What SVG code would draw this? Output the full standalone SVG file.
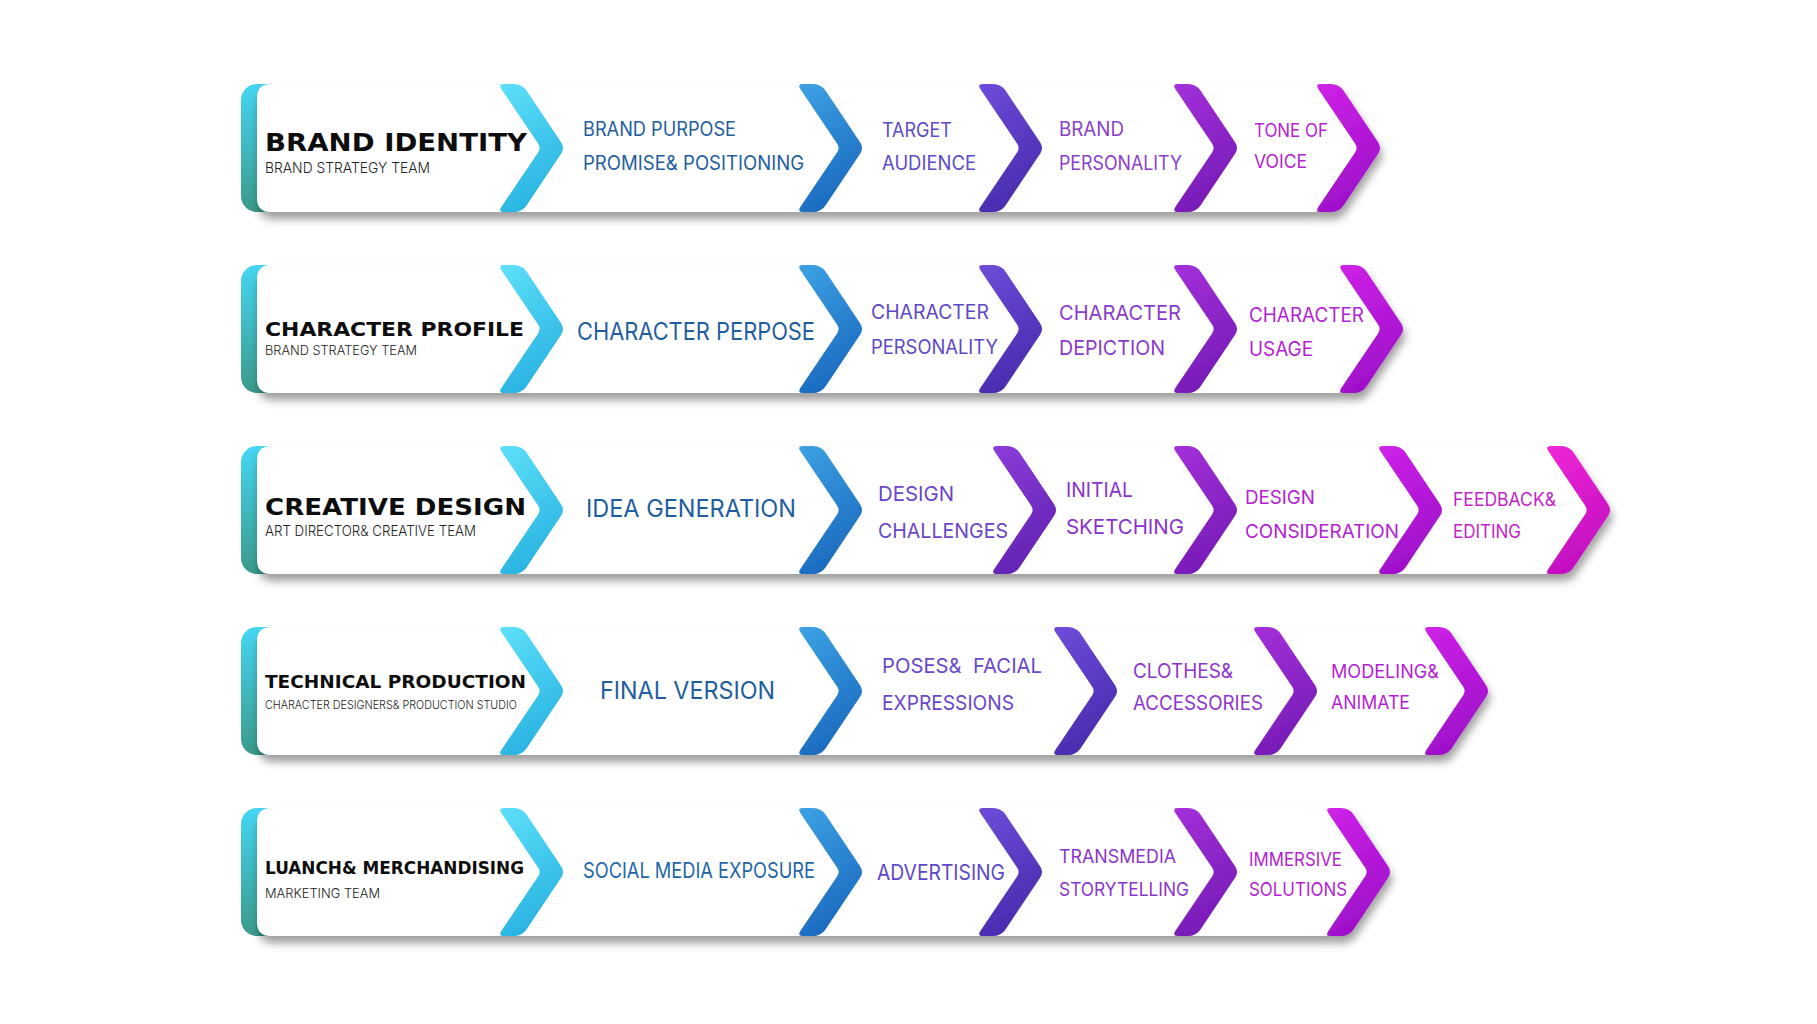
<svg xmlns="http://www.w3.org/2000/svg" xmlns:xlink="http://www.w3.org/1999/xlink" width="1817" height="1024" viewBox="0 0 1817 1024">
<style>
.title{font-family:"DejaVu Sans","Liberation Sans",sans-serif;font-weight:bold;fill:#0d0d0d}
.sub{font-family:"Inter","Liberation Sans",sans-serif;font-weight:300;fill:#222}
.step{font-family:"Inter","Open Sans",sans-serif;font-weight:400}
.tBlue{fill:#1f5e9e}
</style>
<defs>
<filter id="sh" x="-5%" y="-20%" width="110%" height="150%">
<feDropShadow dx="2" dy="7" stdDeviation="4.5" flood-color="#000" flood-opacity="0.38"/>
</filter>
<linearGradient id="gTeal" x1="0" y1="0" x2="0" y2="1"><stop offset="0" stop-color="#45d6f4"/><stop offset="1" stop-color="#3a9a8a"/></linearGradient>
<linearGradient id="gCyan" x1="0" y1="0" x2="0.3" y2="1"><stop offset="0" stop-color="#5ee0fa"/><stop offset="1" stop-color="#2ab4e2"/></linearGradient>
<linearGradient id="gBlue" x1="0" y1="0" x2="0.3" y2="1"><stop offset="0" stop-color="#3ca2e4"/><stop offset="1" stop-color="#1c6bc0"/></linearGradient>
<linearGradient id="gIndigo" x1="0" y1="0" x2="0.3" y2="1"><stop offset="0" stop-color="#6e4cda"/><stop offset="1" stop-color="#4a2caf"/></linearGradient>
<linearGradient id="gViolet" x1="0" y1="0" x2="0.3" y2="1"><stop offset="0" stop-color="#8c3cda"/><stop offset="1" stop-color="#6324b4"/></linearGradient>
<linearGradient id="gPurple" x1="0" y1="0" x2="0.3" y2="1"><stop offset="0" stop-color="#a430da"/><stop offset="1" stop-color="#781cb8"/></linearGradient>
<linearGradient id="gMag" x1="0" y1="0" x2="0.3" y2="1"><stop offset="0" stop-color="#cf22e8"/><stop offset="1" stop-color="#9e10ca"/></linearGradient>
<linearGradient id="gPink" x1="0" y1="0" x2="0.3" y2="1"><stop offset="0" stop-color="#f026d8"/><stop offset="1" stop-color="#c20fc0"/></linearGradient>
<path id="chev" d="M6,-64 L16,-64 Q24,-64 28.5,-57.4 L63.1,-5.8 Q67,0 63.1,5.8 L28.5,57.4 Q24,64 16,64 L6,64 Q0,64 3.3,59 L40.2,4.2 Q43,0 40.2,-4.2 L3.3,-59 Q0,-64 6,-64 Z"/>
</defs>
<rect width="1817" height="1024" fill="#fff"/>

<!-- ROW 1 -->
<g id="row1">
<rect x="241" y="84" width="40" height="128" rx="16" fill="url(#gTeal)"/>
<g filter="url(#sh)">
<path d="M271,84 L1316,84 L1359,148 L1316,212 L271,212 Q257,212 257,198 L257,98 Q257,84 271,84 Z" fill="#fff"/>
<use href="#chev" x="498" y="148" fill="url(#gCyan)"/>
<use href="#chev" x="797" y="148" fill="url(#gBlue)"/>
<use href="#chev" x="977" y="148" fill="url(#gIndigo)"/>
<use href="#chev" x="1172" y="148" fill="url(#gPurple)"/>
<use href="#chev" x="1315" y="148" fill="url(#gMag)"/>
</g>
<g id="n1-0"><text class="title" x="265" y="151" font-size="24" textLength="262" lengthAdjust="spacingAndGlyphs">BRAND IDENTITY</text>
<text class="sub" x="265" y="173" font-size="14.5" textLength="165" lengthAdjust="spacingAndGlyphs">BRAND STRATEGY TEAM</text></g>
<g id="n1-1" class="step tBlue" font-size="19.5"><text x="583" y="136" textLength="153" lengthAdjust="spacingAndGlyphs">BRAND PURPOSE</text><text x="583" y="170" textLength="221" lengthAdjust="spacingAndGlyphs">PROMISE&amp; POSITIONING</text></g>
<g id="n1-2" class="step" font-size="19.5" fill="#5c4ac8"><text x="882" y="137" textLength="70" lengthAdjust="spacingAndGlyphs">TARGET</text><text x="882" y="170" textLength="94" lengthAdjust="spacingAndGlyphs">AUDIENCE</text></g>
<g id="n1-3" class="step" font-size="19.5" fill="#8a3fcb"><text x="1059" y="136" textLength="65" lengthAdjust="spacingAndGlyphs">BRAND</text><text x="1059" y="170" textLength="123" lengthAdjust="spacingAndGlyphs">PERSONALITY</text></g>
<g id="n1-4" class="step" font-size="18" fill="#b623d0"><text x="1254" y="137" textLength="74" lengthAdjust="spacingAndGlyphs">TONE OF</text><text x="1254" y="168" textLength="53" lengthAdjust="spacingAndGlyphs">VOICE</text></g>
</g>

<!-- ROW 2 -->
<g id="row2">
<rect x="241" y="265" width="40" height="128" rx="16" fill="url(#gTeal)"/>
<g filter="url(#sh)">
<path d="M271,265 L1339,265 L1382,329 L1339,393 L271,393 Q257,393 257,379 L257,279 Q257,265 271,265 Z" fill="#fff"/>
<use href="#chev" x="498" y="329" fill="url(#gCyan)"/>
<use href="#chev" x="797" y="329" fill="url(#gBlue)"/>
<use href="#chev" x="977" y="329" fill="url(#gIndigo)"/>
<use href="#chev" x="1172" y="329" fill="url(#gPurple)"/>
<use href="#chev" x="1338" y="329" fill="url(#gMag)"/>
</g>
<g id="n2-0"><text class="title" x="265" y="336" font-size="19.5" textLength="259" lengthAdjust="spacingAndGlyphs">CHARACTER PROFILE</text>
<text class="sub" x="265" y="355" font-size="13.5" textLength="152" lengthAdjust="spacingAndGlyphs">BRAND STRATEGY TEAM</text></g>
<g id="n2-1" class="step tBlue" font-size="24"><text x="577" y="340" textLength="238" lengthAdjust="spacingAndGlyphs">CHARACTER PERPOSE</text></g>
<g id="n2-2" class="step" font-size="19.5" fill="#5d48c6"><text x="871" y="319" textLength="118" lengthAdjust="spacingAndGlyphs">CHARACTER</text><text x="871" y="354" textLength="127" lengthAdjust="spacingAndGlyphs">PERSONALITY</text></g>
<g id="n2-3" class="step" font-size="20" fill="#8a3bcc"><text x="1059" y="320" textLength="122" lengthAdjust="spacingAndGlyphs">CHARACTER</text><text x="1059" y="355" textLength="106" lengthAdjust="spacingAndGlyphs">DEPICTION</text></g>
<g id="n2-4" class="step" font-size="19.5" fill="#b41fd3"><text x="1249" y="322" textLength="115" lengthAdjust="spacingAndGlyphs">CHARACTER</text><text x="1249" y="356" textLength="64" lengthAdjust="spacingAndGlyphs">USAGE</text></g>
</g>

<!-- ROW 3 -->
<g id="row3">
<rect x="241" y="446" width="40" height="128" rx="16" fill="url(#gTeal)"/>
<g filter="url(#sh)">
<path d="M271,446 L1546,446 L1589,510 L1546,574 L271,574 Q257,574 257,560 L257,460 Q257,446 271,446 Z" fill="#fff"/>
<use href="#chev" x="498" y="510" fill="url(#gCyan)"/>
<use href="#chev" x="797" y="510" fill="url(#gBlue)"/>
<use href="#chev" x="991" y="510" fill="url(#gViolet)"/>
<use href="#chev" x="1172" y="510" fill="url(#gPurple)"/>
<use href="#chev" x="1377" y="510" fill="url(#gMag)"/>
<use href="#chev" x="1545" y="510" fill="url(#gPink)"/>
</g>
<g id="n3-0"><text class="title" x="265" y="515" font-size="23" textLength="261" lengthAdjust="spacingAndGlyphs">CREATIVE DESIGN</text>
<text class="sub" x="265" y="536" font-size="14" textLength="211" lengthAdjust="spacingAndGlyphs">ART DIRECTOR&amp; CREATIVE TEAM</text></g>
<g id="n3-1" class="step tBlue" font-size="24"><text x="586" y="517" textLength="210" lengthAdjust="spacingAndGlyphs">IDEA GENERATION</text></g>
<g id="n3-2" class="step" font-size="20.5" fill="#6a46c8"><text x="878" y="501" textLength="76" lengthAdjust="spacingAndGlyphs">DESIGN</text><text x="878" y="538" textLength="130" lengthAdjust="spacingAndGlyphs">CHALLENGES</text></g>
<g id="n3-3" class="step" font-size="20.5" fill="#8a33cc"><text x="1066" y="497" textLength="67" lengthAdjust="spacingAndGlyphs">INITIAL</text><text x="1066" y="534" textLength="118" lengthAdjust="spacingAndGlyphs">SKETCHING</text></g>
<g id="n3-4" class="step" font-size="19" fill="#b422d2"><text x="1245" y="504" textLength="70" lengthAdjust="spacingAndGlyphs">DESIGN</text><text x="1245" y="538" textLength="154" lengthAdjust="spacingAndGlyphs">CONSIDERATION</text></g>
<g id="n3-5" class="step" font-size="18" fill="#c41fcc"><text x="1453" y="506" textLength="103" lengthAdjust="spacingAndGlyphs">FEEDBACK&amp;</text><text x="1453" y="538" textLength="68" lengthAdjust="spacingAndGlyphs">EDITING</text></g>
</g>

<!-- ROW 4 -->
<g id="row4">
<rect x="241" y="627" width="40" height="128" rx="16" fill="url(#gTeal)"/>
<g filter="url(#sh)">
<path d="M271,627 L1424,627 L1467,691 L1424,755 L271,755 Q257,755 257,741 L257,641 Q257,627 271,627 Z" fill="#fff"/>
<use href="#chev" x="498" y="691" fill="url(#gCyan)"/>
<use href="#chev" x="797" y="691" fill="url(#gBlue)"/>
<use href="#chev" x="1052" y="691" fill="url(#gIndigo)"/>
<use href="#chev" x="1252" y="691" fill="url(#gPurple)"/>
<use href="#chev" x="1423" y="691" fill="url(#gMag)"/>
</g>
<g id="n4-0"><text class="title" x="265" y="688" font-size="18.5" textLength="261" lengthAdjust="spacingAndGlyphs">TECHNICAL PRODUCTION</text>
<text class="sub" x="265" y="709" font-size="11.5" textLength="252" lengthAdjust="spacingAndGlyphs">CHARACTER DESIGNERS&amp; PRODUCTION STUDIO</text></g>
<g id="n4-1" class="step tBlue" font-size="24"><text x="600" y="699" textLength="175" lengthAdjust="spacingAndGlyphs">FINAL VERSION</text></g>
<g id="n4-2" class="step" font-size="20" fill="#6a48c8"><text x="882" y="673" textLength="160" lengthAdjust="spacingAndGlyphs" style="white-space:pre">POSES&amp;  FACIAL</text><text x="882" y="710" textLength="132" lengthAdjust="spacingAndGlyphs">EXPRESSIONS</text></g>
<g id="n4-3" class="step" font-size="19.5" fill="#8e35cc"><text x="1133" y="678" textLength="100" lengthAdjust="spacingAndGlyphs">CLOTHES&amp;</text><text x="1133" y="710" textLength="130" lengthAdjust="spacingAndGlyphs">ACCESSORIES</text></g>
<g id="n4-4" class="step" font-size="18.5" fill="#b41fd6"><text x="1331" y="678" textLength="108" lengthAdjust="spacingAndGlyphs">MODELING&amp;</text><text x="1331" y="709" textLength="79" lengthAdjust="spacingAndGlyphs">ANIMATE</text></g>
</g>

<!-- ROW 5 -->
<g id="row5">
<rect x="241" y="808" width="40" height="128" rx="16" fill="url(#gTeal)"/>
<g filter="url(#sh)">
<path d="M271,808 L1326,808 L1369,872 L1326,936 L271,936 Q257,936 257,922 L257,822 Q257,808 271,808 Z" fill="#fff"/>
<use href="#chev" x="498" y="872" fill="url(#gCyan)"/>
<use href="#chev" x="797" y="872" fill="url(#gBlue)"/>
<use href="#chev" x="977" y="872" fill="url(#gIndigo)"/>
<use href="#chev" x="1172" y="872" fill="url(#gPurple)"/>
<use href="#chev" x="1325" y="872" fill="url(#gMag)"/>
</g>
<g id="n5-0"><text class="title" x="265" y="874" font-size="17" textLength="259" lengthAdjust="spacingAndGlyphs">LUANCH&amp; MERCHANDISING</text>
<text class="sub" x="265" y="898" font-size="13.5" textLength="115" lengthAdjust="spacingAndGlyphs">MARKETING TEAM</text></g>
<g id="n5-1" class="step" font-size="21" fill="#2266a8"><text x="583" y="878" textLength="232" lengthAdjust="spacingAndGlyphs">SOCIAL MEDIA EXPOSURE</text></g>
<g id="n5-2" class="step" font-size="21" fill="#5c48c8"><text x="877" y="880" textLength="128" lengthAdjust="spacingAndGlyphs">ADVERTISING</text></g>
<g id="n5-3" class="step" font-size="19" fill="#8a36cc"><text x="1059" y="863" textLength="117" lengthAdjust="spacingAndGlyphs">TRANSMEDIA</text><text x="1059" y="896" textLength="130" lengthAdjust="spacingAndGlyphs">STORYTELLING</text></g>
<g id="n5-4" class="step" font-size="19" fill="#b41fd3"><text x="1249" y="866" textLength="93" lengthAdjust="spacingAndGlyphs">IMMERSIVE</text><text x="1249" y="896" textLength="98" lengthAdjust="spacingAndGlyphs">SOLUTIONS</text></g>
</g>
</svg>
